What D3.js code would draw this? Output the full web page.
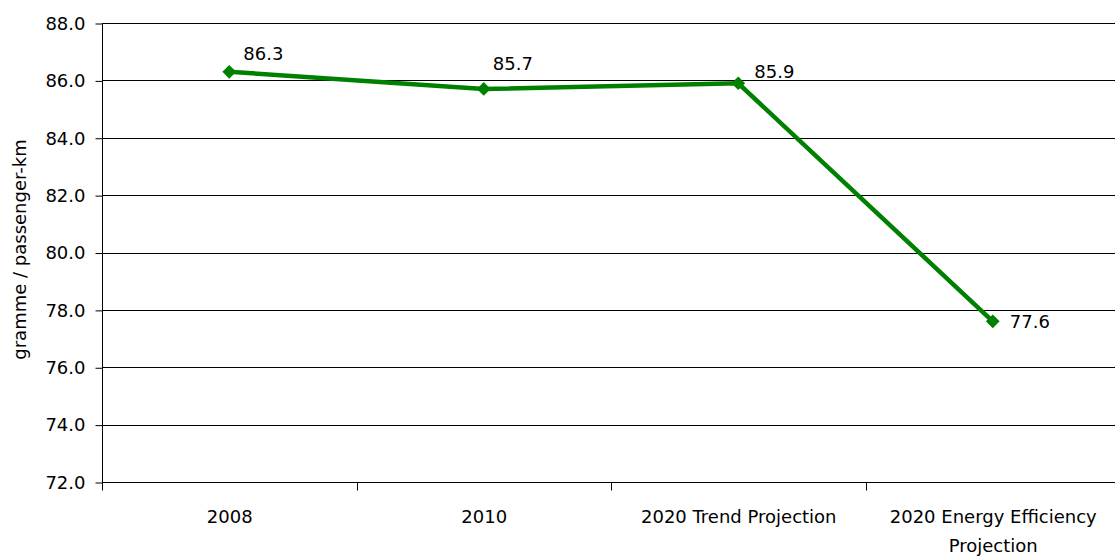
<!DOCTYPE html>
<html><head><meta charset="utf-8">
<script src="https://cdn.jsdelivr.net/npm/d3@7"></script>
<style>body{margin:0;background:#fff;} text{font-family:"DejaVu Sans",sans-serif;}</style>
</head><body>
<svg id="c" width="1115" height="557"></svg>
<script>
const categories = ["2008", "2010", "2020 Trend Projection", "2020 Energy Efficiency Projection"];
const values = [86.3, 85.7, 85.9, 77.6];
const yTicks = [72, 74, 76, 78, 80, 82, 84, 86, 88];
const yTitle = "gramme / passenger-km";

const FS = 18;
const svg = d3.select("#c");
const m = {l:102, t:23, r:-5, b:75};
const W = 1115, H = 557;
const x = d3.scaleBand().domain(categories).range([m.l, W - m.r]);
const y = d3.scaleLinear().domain([72, 88]).range([H - m.b, m.t]);

// gridlines
svg.append("g").selectAll("line").data(yTicks).join("line")
  .attr("x1", m.l).attr("x2", W).attr("y1", d=>Math.round(y(d))+0.5).attr("y2", d=>Math.round(y(d))+0.5)
  .attr("stroke", "#000").attr("stroke-width", 1);

// y axis
const ya = svg.append("g").attr("transform", `translate(${m.l+0.5},0.5)`)
  .call(d3.axisLeft(y).tickValues(yTicks).tickFormat(d3.format(".1f")).tickSize(7).tickPadding(10));
ya.selectAll("path,line").attr("stroke", "#000");
ya.selectAll("text").attr("font-size", FS).attr("fill", "#000").attr("font-family", "DejaVu Sans");
ya.select(".domain").attr("d", `M0,${y(88)}V${y(72)}`);

// x axis
const xa = svg.append("g").attr("transform", `translate(0.5,${Math.round(y(72))+0.5})`);
xa.append("line").attr("x1", m.l).attr("x2", W).attr("stroke", "#000");
const bounds = categories.map(c => x(c)).concat([x.range()[1]]);
xa.selectAll(".tk").data(bounds).join("line").attr("class","tk")
  .attr("x1", d=>Math.round(d)).attr("x2", d=>Math.round(d)).attr("y1", 0).attr("y2", 8).attr("stroke", "#000");
const lab = xa.selectAll(".xl").data(categories).join("text").attr("class","xl")
  .attr("x", d => x(d) + x.bandwidth()/2).attr("y", 40)
  .attr("text-anchor", "middle").attr("font-size", FS).attr("fill", "#000");
lab.each(function(d){
  const t = d3.select(this);
  if (d === "2020 Energy Efficiency Projection") {
    t.append("tspan").attr("x", x(d)+x.bandwidth()/2).text("2020 Energy Efficiency");
    t.append("tspan").attr("x", x(d)+x.bandwidth()/2).attr("dy", 29).text("Projection");
  } else t.text(d);
});

// y title
svg.append("text").attr("transform", `translate(26,${(y(88)+y(72))/2 - 3}) rotate(-90)`)
  .attr("text-anchor", "middle").attr("font-size", FS).attr("fill", "#000").text(yTitle);

// line
const pts = categories.map((c,i)=>({c, v:values[i]}));
svg.append("path").datum(pts)
  .attr("d", d3.line().x(d=>x(d.c)+x.bandwidth()/2).y(d=>y(d.v)))
  .attr("fill", "none").attr("stroke", "#008000").attr("stroke-width", 4.5);

svg.append("g").selectAll("path").data(pts).join("path")
  .attr("transform", d=>`translate(${x(d.c)+x.bandwidth()/2},${y(d.v)})`)
  .attr("d", d3.symbol(d3.symbolDiamond2, 120)).attr("fill", "#008000");

// label offsets from their points (first two placed above-right, last two right)
const labelDx = [14, 9, 16, 17];
const labelDy = [-12, -19, -5, 7];
svg.append("g").selectAll("text").data(pts).join("text")
  .attr("x", (d,i)=>x(d.c)+x.bandwidth()/2 + labelDx[i])
  .attr("y", (d,i)=>y(d.v) + labelDy[i])
  .attr("font-size", FS).attr("fill", "#000").text(d=>d.v.toFixed(1));
</script>
</body></html>
